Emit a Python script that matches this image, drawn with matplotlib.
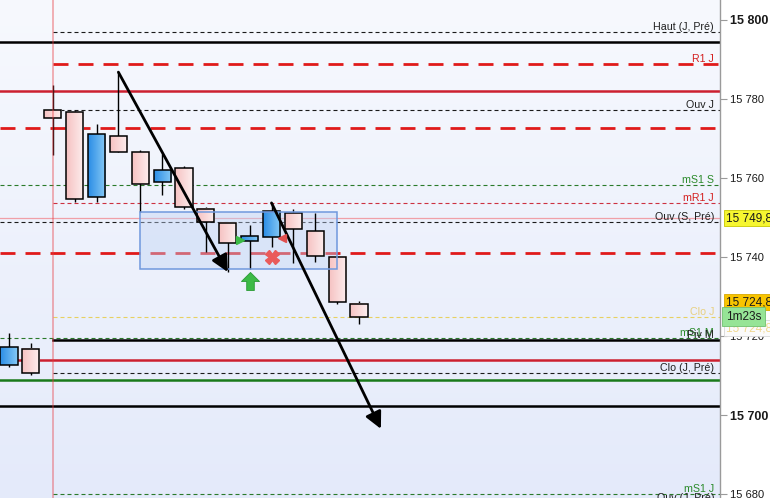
import numpy as np
import matplotlib
matplotlib.use('Agg')
import matplotlib.pyplot as plt
from matplotlib.colors import LinearSegmentedColormap
from matplotlib.patches import Rectangle
from matplotlib.path import Path
import matplotlib.transforms as mtransforms

plt.rcParams['font.family'] = ['Liberation Sans', 'DejaVu Sans']

# ---------------- data ----------------
opens  = [15712.7, 15716.7, 15777.2, 15776.7, 15755.2, 15770.6, 15766.6, 15759.0, 15762.5,
          15752.2, 15748.6, 15744.1, 15745.1, 15751.1, 15746.6, 15740.0, 15728.1]
closes = [15717.2, 15710.6, 15775.2, 15754.7, 15771.1, 15766.6, 15758.5, 15762.0, 15752.7,
          15748.9, 15743.5, 15745.3, 15751.6, 15747.1, 15740.3, 15728.6, 15724.8]
highs  = [15720.8, 15718.2, 15783.5, 15777.0, 15773.7, 15786.8, 15767.1, 15766.1, 15763.0,
          15752.7, 15748.6, 15748.1, 15753.7, 15752.2, 15751.1, 15740.0, 15728.9]
lows   = [15712.2, 15710.1, 15765.8, 15753.9, 15753.9, 15766.6, 15751.4, 15755.7, 15752.2,
          15741.3, 15736.2, 15737.0, 15742.5, 15738.5, 15738.7, 15728.1, 15723.0]

day_start = 2  # index of first candle of the day (separator)

level_prices = [15797.0, 15794.4, 15788.8, 15781.9, 15777.1, 15772.7, 15758.2, 15753.8,
                15749.8, 15748.9, 15741.0, 15724.8, 15719.4, 15719.1, 15714.0, 15710.6,
                15708.9, 15702.4, 15680.0, 15677.8]
level_labels = ['Haut (J, Pré)', '', 'R1 J', '', 'Ouv J', '', 'mS1 S', 'mR1 J',
                '', 'Ouv (S, Pré)', '', 'Clo J', 'mS1 M', 'Piv M', '', 'Clo (J, Pré)',
                '', '', 'mS1 J', 'Ouv (J, Pré)']
level_kind = ['kdash', 'ksolid', 'rthick', 'rsolid', 'kdash', 'rthick', 'gdash', 'rdash',
              'pink', 'kdash', 'rthick', 'ydash', 'gdash', 'ksolid', 'rsolid', 'kdash',
              'gsolid', 'ksolid', 'gdash', 'kdash']
level_full = [False, True, False, True, False, True, True, False,
              True, True, True, False, True, False, True, False,
              True, True, False, False]

box_x = [6, 15]
box_y = [15737.0, 15751.4]

arrow1 = [(5, 15786.8), (10, 15736.2)]
arrow2 = [(12, 15753.7), (17, 15696.5)]

yticks = [15680, 15700, 15720, 15740, 15760, 15780, 15800]
ytick_labels = ['15 680', '15 700', '15 720', '15 740', '15 760', '15 780', '15 800']
bold_ticks = [15700, 15800]

# ---------------- figure ----------------
W, H = 770, 498
fig = plt.figure(figsize=(W / 100, H / 100), dpi=100, facecolor='white')
ax = fig.add_axes([0, 0, 720 / W, 1])

xmin, xmax = -0.411, 32.5
ymin, ymax = 15679.0, 15805.06

# background gradient
bg = LinearSegmentedColormap.from_list('bg', ['#e4eafa', '#f7f9fe'])
ax.imshow(np.linspace(0, 1, 256).reshape(-1, 1)[::-1], cmap=bg, aspect='auto',
          extent=[0, 1, 0, 1], transform=ax.transAxes, zorder=0, origin='upper')

styles = {
    'kdash':  dict(color='#1a1a1a', lw=0.8, ls=(0, (3.6, 2.7))),
    'ksolid': dict(color='#000000', lw=1.8, ls='-'),
    'rthick': dict(color='#e01a1a', lw=2.0, ls=(0, (5.4, 3.6))),
    'rsolid': dict(color='#cc2030', lw=1.8, ls='-'),
    'rdash':  dict(color='#cc3040', lw=0.8, ls=(0, (3.6, 2.7))),
    'gdash':  dict(color='#2a7a2a', lw=0.8, ls=(0, (3.6, 2.7))),
    'gsolid': dict(color='#1a7a1a', lw=1.8, ls='-'),
    'ydash':  dict(color='#e8d060', lw=0.8, ls=(0, (3.6, 2.7))),
    'pink':   dict(color='#f0a0a8', lw=0.9, ls='-'),
}
label_colors = {'k': '#202020', 'r': '#d42020', 'g': '#2a8a2a', 'y': '#e8d080', 'p': '#202020'}

bt = mtransforms.blended_transform_factory(ax.transAxes, ax.transData)
for p, lab, kind, full in zip(level_prices, level_labels, level_kind, level_full):
    st = styles[kind]
    x0 = xmin if full else day_start
    ax.plot([x0, xmax], [p, p], color=st['color'], lw=st['lw'], ls=st['ls'], zorder=2)
    if lab:
        ax.text(0.9917, p, lab, transform=bt, ha='right', va='bottom', fontsize=7.7,
                color=label_colors[kind[0]], zorder=3)

# selection box
ax.add_patch(Rectangle((box_x[0], box_y[0]), box_x[1] - box_x[0], box_y[1] - box_y[0],
                       facecolor='#bfd2f4', alpha=0.42, edgecolor='none', zorder=2.5))
ax.add_patch(Rectangle((box_x[0], box_y[0]), box_x[1] - box_x[0], box_y[1] - box_y[0],
                       facecolor='none', edgecolor='#6f98dd', lw=1.1, zorder=4))

# candles
cw = 0.78
pink_cm = LinearSegmentedColormap.from_list('pk', ['#f6c2c2', '#fdeeee'])
blue_cm = LinearSegmentedColormap.from_list('bl', ['#2b8de6', '#86c9f5'])
grad = np.linspace(0, 1, 64).reshape(1, -1)
for i, (o, h, l, c) in enumerate(zip(opens, highs, lows, closes)):
    ax.plot([i, i], [l, h], color='black', lw=1.0, zorder=3, solid_capstyle='butt')
    lo, hi = min(o, c), max(o, c)
    cm = blue_cm if c > o else pink_cm
    ax.imshow(grad, cmap=cm, aspect='auto', extent=[i - cw / 2, i + cw / 2, lo, hi],
              zorder=3.2, interpolation='bilinear')
    ax.add_patch(Rectangle((i - cw / 2, lo), cw, hi - lo, facecolor='none',
                           edgecolor='black', lw=1.1, zorder=3.4))

# day separator
ax.axvline(day_start, color='#e83a40', alpha=0.45, lw=1.2, zorder=3.6)

# arrows
for (s, e) in (arrow1, arrow2):
    ax.annotate('', xy=e, xytext=s,
                arrowprops=dict(arrowstyle='-|>,head_length=1.0,head_width=0.5', color='black',
                                lw=2.0, shrinkA=0, shrinkB=0), zorder=5)

# signal markers
up_arrow = Path([(0, 1), (1, 0), (0.42, 0), (0.42, -1), (-0.42, -1), (-0.42, 0), (-1, 0), (0, 1)],
                [Path.MOVETO] + [Path.LINETO] * 6 + [Path.CLOSEPOLY])
ax.plot([11], [15734.0], marker=up_arrow, ms=13, color='#3cba46', mec='#2a9a34', mew=0.6, zorder=5)
ax.plot([12], [15740.0], marker='X', ms=10, color='#ea5a5a', mec='#ea5a5a', zorder=5)
ax.plot([10.56], [15744.3], marker='>', ms=6, color='#3cba46', zorder=5)
ax.plot([12.48], [15744.8], marker='<', ms=6, color='#e05050', zorder=5)

ax.set_xlim(xmin, xmax)
ax.set_ylim(ymin, ymax)

# axes styling
for s in ['top', 'left', 'bottom']:
    ax.spines[s].set_visible(False)
ax.spines['right'].set_color('#9a9a9a')
ax.spines['right'].set_linewidth(1.0)
ax.set_xticks([])
ax.yaxis.tick_right()
ax.set_yticks(yticks)
ax.set_yticklabels(ytick_labels)
ax.tick_params(axis='y', direction='out', length=5, color='#9a9a9a', pad=2, labelsize=8,
               labelcolor='#1a1a1a')
for t, v in zip(ax.get_yticklabels(), yticks):
    if v in bold_ticks:
        t.set_fontweight('bold')
        t.set_fontsize(9)

# price tags on the right axis
ax.text(1.008, 15749.8, '15 749,8', transform=bt, ha='left', va='center', fontsize=8.5,
        color='#1a1a1a', zorder=6, clip_on=False,
        bbox=dict(boxstyle='square,pad=0.18', fc='#f6f630', ec='#c8c800', lw=0.6))
ax.text(1.008, 15722.0, '15 724,8', transform=bt, ha='left', va='center', fontsize=8.5,
        color='#f0d890', zorder=6, clip_on=False,
        bbox=dict(boxstyle='square,pad=0.18', fc='#fbfbfb', ec='#d8d8d8', lw=0.6))
ax.text(1.008, 15728.6, '15 724,8', transform=bt, ha='left', va='center', fontsize=8.5,
        color='#1a1a1a', zorder=7, clip_on=False,
        bbox=dict(boxstyle='square,pad=0.18', fc='#f8c400', ec='#d8a800', lw=0.6))
ax.text(1.008, 15724.9, '1m23s', transform=bt, ha='left', va='center', fontsize=8.5,
        color='#1a1a1a', zorder=8, clip_on=False,
        bbox=dict(boxstyle='square,pad=0.3', fc='#96e496', ec='#70c070', lw=0.6))

fig.savefig('out.png', dpi=100, facecolor='white')
